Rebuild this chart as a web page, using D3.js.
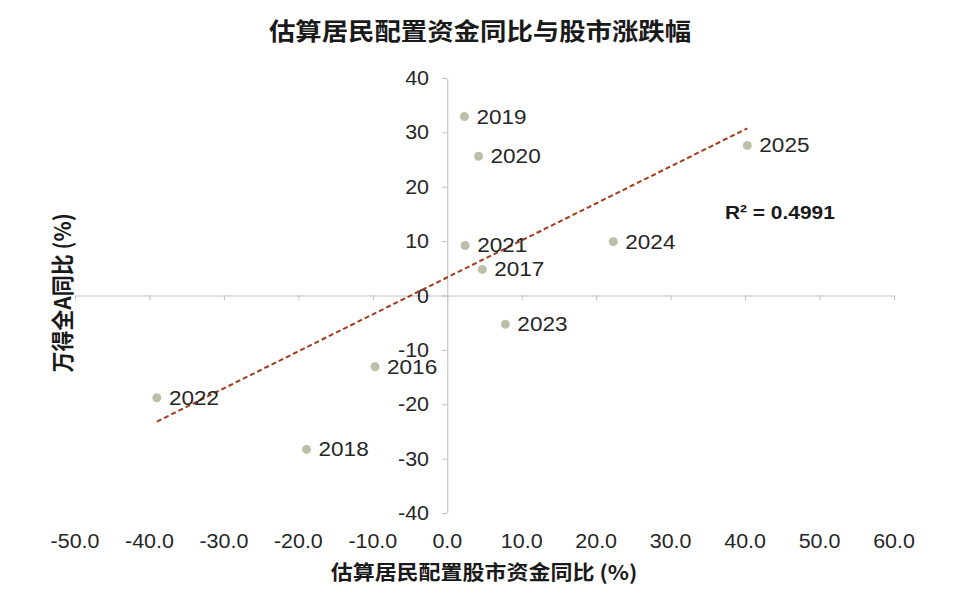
<!DOCTYPE html>
<html>
<head>
<meta charset="utf-8">
<script src="https://cdn.jsdelivr.net/npm/d3@7"></script>
<style>
  body { margin: 0; background: #fff; }
  text { font-family: "Liberation Sans", Arial, "Noto Sans CJK SC", sans-serif; }
</style>
</head>
<body>
<div id="chart"></div>
<script>
// values
var years = ["2019", "2020", "2025", "2021", "2017", "2024", "2023", "2016", "2022", "2018"];
var fundYoY = [2.3, 4.2, 40.3, 2.4, 4.7, 22.3, 7.8, -9.7, -39.0, -18.9];
var indexYoY = [32.9, 25.6, 27.6, 9.2, 4.8, 9.9, -5.3, -13.1, -18.8, -28.3];
var xTicks = [-50, -40, -30, -20, -10, 0, 10, 20, 30, 40, 50, 60];
var yTicks = [-40, -30, -20, -10, 0, 10, 20, 30, 40];
var r2Label = "R² = 0.4991";

var width = 959, height = 595;
var cjk = '"Noto Sans CJK SC", "Liberation Sans", sans-serif';
var sx = 1.1; // the source picture is a little wider than tall in its glyphs

var svg = d3.select("#chart")
  .append("svg")
    .attr("width", width)
    .attr("height", height);

var x = d3.scaleLinear().domain([-50, 60]).range([75, 894]);
var y = d3.scaleLinear().domain([-40, 40]).range([513, 78]);

function place(px, py) { return "translate(" + px + "," + py + ") scale(" + sx + ",1)"; }
function num(d) { return String(d).replace("−", "-"); }

// title
svg.append("text")
  .attr("transform", place(480, 40))
  .attr("text-anchor", "middle")
  .style("font-family", cjk)
  .style("font-size", "24px")
  .style("font-weight", "bold")
  .attr("fill", "#1a1a1a")
  .text("估算居民配置资金同比与股市涨跌幅");

// x axis line at y=0, ticks downward, labels at the bottom
var xAxis = svg.append("g")
  .attr("transform", "translate(0," + y(0) + ")")
  .call(d3.axisBottom(x).tickValues(xTicks).tickSize(5).tickSizeOuter(0).tickFormat(""));
xAxis.select(".domain").attr("stroke", "#bfbfbf");
xAxis.selectAll(".tick line").attr("stroke", "#bfbfbf");

svg.append("g")
  .selectAll("text")
  .data(xTicks)
  .enter()
  .append("text")
    .attr("transform", function(d) { return place(x(d), 548); })
    .attr("text-anchor", "middle")
    .style("font-size", "19.5px")
    .attr("fill", "#262626")
    .text(function(d) { return d3.format(".1f")(d).replace("−", "-"); });

// y axis line at x=0
var yAxis = svg.append("g")
  .attr("transform", "translate(" + x(0) + ",0)")
  .call(d3.axisLeft(y).tickValues(yTicks).tickSize(5).tickSizeOuter(0).tickFormat(""));
yAxis.select(".domain").attr("stroke", "#bfbfbf");
yAxis.selectAll(".tick line").attr("stroke", "#bfbfbf");

svg.append("g")
  .selectAll("text")
  .data(yTicks)
  .enter()
  .append("text")
    .attr("transform", function(d) { return place(429, y(d) + 7); })
    .attr("text-anchor", "end")
    .style("font-size", "19.5px")
    .attr("fill", "#262626")
    .text(num);

// axis titles
svg.append("text")
  .attr("transform", place(484, 580))
  .attr("text-anchor", "middle")
  .style("font-family", cjk)
  .style("font-size", "20px")
  .style("font-weight", "bold")
  .attr("fill", "#1a1a1a")
  .text("估算居民配置股市资金同比 (%)");

svg.append("text")
  .attr("transform", "translate(71,293) rotate(-90) scale(1," + sx + ")")
  .attr("text-anchor", "middle")
  .style("font-family", cjk)
  .style("font-size", "21px")
  .style("font-weight", "bold")
  .attr("fill", "#1a1a1a")
  .text("万得全A同比 (%)");

// linear trendline from least squares
var pts = years.map(function(yr, i) { return { year: yr, fx: fundYoY[i], iy: indexYoY[i] }; });
var mx = d3.mean(fundYoY), my = d3.mean(indexYoY);
var sxy = d3.sum(pts, function(d) { return (d.fx - mx) * (d.iy - my); });
var sxx = d3.sum(pts, function(d) { return (d.fx - mx) * (d.fx - mx); });
var slope = sxy / sxx, icpt = my - slope * mx;
var ext = d3.extent(fundYoY);
var trend = ext.map(function(v) { return { fx: v, iy: icpt + slope * v }; });

svg.append("path")
  .datum(trend)
  .attr("fill", "none")
  .attr("stroke", "#a33a1c")
  .attr("stroke-width", 2)
  .attr("stroke-dasharray", "5,3")
  .attr("d", d3.line()
    .x(function(d) { return x(d.fx); })
    .y(function(d) { return y(d.iy); }));

// points
svg.append("g")
  .selectAll("circle")
  .data(pts)
  .enter()
  .append("circle")
    .attr("cx", function(d) { return x(d.fx); })
    .attr("cy", function(d) { return y(d.iy); })
    .attr("r", 4.5)
    .attr("fill", "#bebfa9");

// point labels
svg.append("g")
  .selectAll("text")
  .data(pts)
  .enter()
  .append("text")
    .attr("transform", function(d) { return place(x(d.fx) + 12, y(d.iy) + 7); })
    .style("font-size", "20.5px")
    .attr("fill", "#262626")
    .text(function(d) { return d.year; });

// R squared
svg.append("text")
  .attr("transform", place(725, 219))
  .style("font-size", "19px")
  .style("font-weight", "bold")
  .attr("fill", "#1a1a1a")
  .text(r2Label);
</script>
</body>
</html>
